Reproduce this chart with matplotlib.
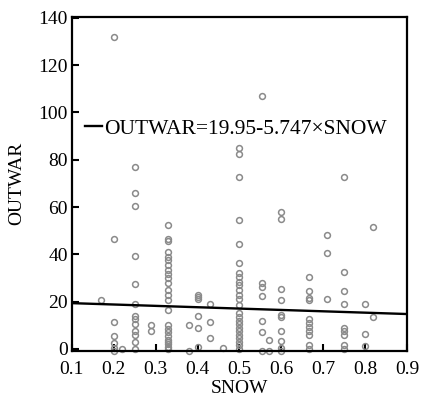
import matplotlib
matplotlib.use("Agg")
import matplotlib.pyplot as plt
import numpy as np

plt.rcParams['font.family'] = ['Liberation Serif', 'DejaVu Serif']

# SNOW value of each column and the OUTWAR values observed in it
snow_levels = [0.17, 0.2, 0.22, 0.25, 0.29, 0.33, 0.38, 0.4, 0.43, 0.46,
               0.5, 0.555, 0.57, 0.6, 0.667, 0.71, 0.75, 0.8, 0.82]
outwar_by_level = [
    [20.5],
    [132, 46.5, 11.5, 5.5, 2.5, 0.5, -0.8],
    [0],
    [77, 66, 60.5, 39.5, 27.5, 19, 14, 12.5, 10.5, 7.5, 6, 3, 0],
    [10, 7.5],
    [52.5, 46.5, 45.5, 41, 39, 37.5, 35.5, 33.5, 31.5, 30, 28, 25, 23, 20.5,
     16.5, 10, 8.5, 7, 5.5, 4, 3, 2, 1, 0],
    [10, -0.8],
    [23, 22, 21, 14, 9, 1],
    [19, 11.5, 4.5],
    [0.5],
    [85, 82.5, 72.5, 54.5, 44.5, 36.5, 32, 30.5, 28.5, 27, 25, 23, 21, 18.5,
     15, 13.5, 12, 10.5, 9, 7.5, 6, 4.5, 3, 1.5, 0],
    [107, 28, 26, 22.5, 12, 7, -0.8],
    [4, -0.8],
    [58, 55, 25.5, 20.5, 14.5, 13.5, 7.5, 3.5, 0.5, -0.8],
    [30.5, 24.5, 21.5, 20.5, 12.5, 11, 9.5, 7.5, 6, 1.5, 0],
    [48, 40.5, 21],
    [72.5, 32.5, 24.5, 19, 9, 7.5, 6, 1.5, 0],
    [19, 6.5, 1.2],
    [51.5, 13.5],
]

intercept = 19.95
slope = -5.747

x = np.concatenate([[s] * len(v) for s, v in zip(snow_levels, outwar_by_level)])
y = np.concatenate(outwar_by_level)

fig = plt.figure(figsize=(4.23, 4.01), dpi=100)
ax = fig.add_axes([0.170, 0.125, 0.792, 0.833])

ax.plot(x, y, 'o', mfc='none', mec='#8a8a8a', ms=4.2, mew=1.1, clip_on=False)

xs = np.array([0.1, 0.9])
ax.plot(xs, intercept + slope * xs, color='black', lw=1.7,
        label='OUTWAR=19.95-5.747×SNOW')

ax.set_xlim(0.1, 0.9)
ax.set_ylim(-0.8, 140.4)
ax.set_xticks(np.arange(0.1, 0.91, 0.1))
ax.set_yticks(range(0, 141, 20))
ax.set_xticklabels(['%.1f' % v for v in np.arange(0.1, 0.91, 0.1)])
ax.tick_params(direction='in', length=5, width=1.5, labelsize=14)
ax.tick_params(axis='x', pad=7)
ax.tick_params(axis='y', pad=3)
for sp in ax.spines.values():
    sp.set_linewidth(1.6)

ax.set_xlabel('SNOW', fontsize=14, labelpad=2)
ax.set_ylabel('OUTWAR', fontsize=14, labelpad=9)

ax.legend(loc='center left', bbox_to_anchor=(-0.02, 0.665), frameon=False,
          fontsize=15.5, handlelength=0.8, handletextpad=0.1)

fig.savefig('out.png', dpi=100)
